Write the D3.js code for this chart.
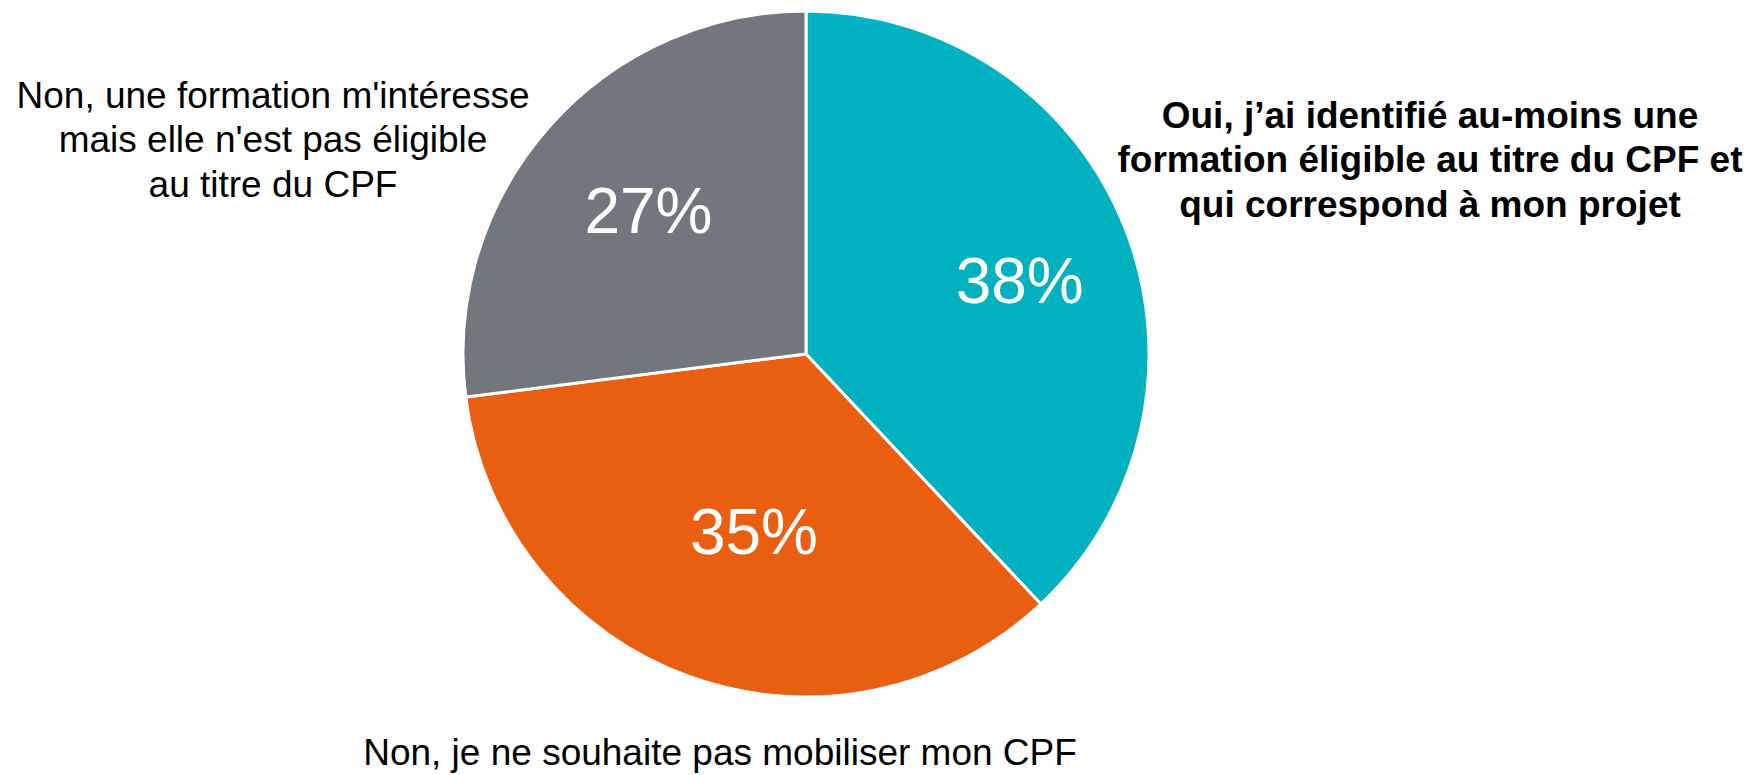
<!DOCTYPE html>
<html>
<head>
<meta charset="utf-8">
<script src="https://cdn.jsdelivr.net/npm/d3@7"></script>
<style>
  body { margin: 0; background: #fff; }
  svg { display: block; font-family: "Liberation Sans", Arial, sans-serif; }
</style>
</head>
<body>
<svg width="1750" height="775"></svg>
<script>
// Slices, in clockwise order from 12 o'clock
var categories = [
  "Oui, j’ai identifié au-moins une formation éligible au titre du CPF et qui correspond à mon projet",
  "Non, je ne souhaite pas mobiliser mon CPF",
  "Non, une formation m'intéresse mais elle n'est pas éligible au titre du CPF"
];
var values = [38, 35, 27];
var colors = ["#00B2BF", "#E95E10", "#72777D"];

// Category labels as they are broken in the original
var labelLines = [
  ["Oui, j’ai identifié au-moins une", "formation éligible au titre du CPF et", "qui correspond à mon projet"],
  ["Non, je ne souhaite pas mobiliser mon CPF"],
  ["Non, une formation m'intéresse", "mais elle n'est pas éligible", "au titre du CPF"]
];

var svg = d3.select("svg"),
  cx = 806,
  cy = 354,
  radius = 343;

var data = categories.map(function (c, i) {
  return { name: c, value: values[i], color: colors[i], lines: labelLines[i] };
});

var pie = d3.pie().sort(null).value(function (d) { return d.value; });
var arc = d3.arc().innerRadius(0).outerRadius(radius);
var labelArc = d3.arc().innerRadius(radius * 0.62).outerRadius(radius * 0.62);

var g = svg.append("g").attr("transform", "translate(" + cx + "," + cy + ")");

var arcs = pie(data);

g.selectAll("path")
  .data(arcs)
  .enter()
  .append("path")
  .attr("d", arc)
  .attr("fill", function (d) { return d.data.color; })
  .attr("stroke", "#fff")
  .attr("stroke-width", 3)
  .attr("stroke-linejoin", "round");

// small nudges so the % labels sit where the original places them
var pctNudge = [[16, 5], [20, -22], [2, -3]];

g.selectAll(".pct")
  .data(arcs)
  .enter()
  .append("text")
  .attr("class", "pct")
  .attr("transform", function (d, i) {
    var c = labelArc.centroid(d);
    return "translate(" + (c[0] + pctNudge[i][0]) + "," + (c[1] + pctNudge[i][1]) + ")";
  })
  .attr("text-anchor", "middle")
  .attr("dy", "0.35em")
  .style("font-size", "64px")
  .style("fill", "#fff")
  .text(function (d) { return d.data.value + "%"; });

// category labels outside the pie
var outside = [
  { x: 1430, y: 115, bold: true },
  { x: 720, y: 752, bold: false },
  { x: 273, y: 95, bold: false }
];

data.forEach(function (d, i) {
  var pos = outside[i];
  var t = svg.append("text")
    .attr("x", pos.x)
    .attr("y", pos.y)
    .attr("text-anchor", "middle")
    .style("font-size", "37px")
    .style("font-weight", pos.bold ? "bold" : "normal")
    .style("fill", "#000");
  d.lines.forEach(function (line, j) {
    t.append("tspan")
      .attr("x", pos.x)
      .attr("dy", j === 0 ? "0.35em" : "1.2em")
      .text(line);
  });
});
</script>
</body>
</html>
